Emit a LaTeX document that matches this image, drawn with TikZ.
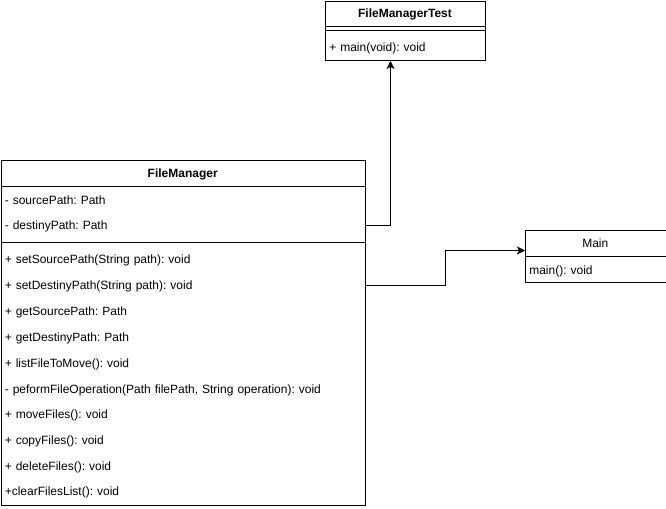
\documentclass[tikz,border=0pt]{standalone}
\usepackage{fontspec}
\setmainfont{Liberation Sans}
\frenchspacing
\usetikzlibrary{arrows.meta}
\begin{document}
\begin{tikzpicture}[x=0.75pt, y=-0.75pt, font=\fontsize{9pt}{11pt}\selectfont,
	classbox/.style={draw, line width=0.75pt, anchor=north west, inner sep=0pt},
	title/.style={anchor=center, inner sep=0pt, text height=6.5pt, text depth=1.9pt, yshift=-1.1pt},
	row/.style={anchor=west, inner xsep=3pt, inner ysep=0pt, align=left, text height=6.5pt, text depth=1.9pt, yshift=-1.1pt},
	conn/.style={line width=0.75pt, -{Stealth[length=6pt, width=6pt, inset=1.5pt]}}]
	    \useasboundingbox (0,0) rectangle (666,508);
	    % FileManagerTest
	    \node[classbox, minimum width=120pt, minimum height=44.6pt] (test) at (325,0.5) {};
	    \node[title, font=\fontsize{9pt}{11pt}\selectfont\bfseries] (testname) at (405,13) {FileManagerTest};
	    \draw[line width=0.75pt] (325,26) -- (485,26);
	    \draw[line width=0.75pt] (325,30) -- (485,30);
	    \node[row, text width=114pt] (testmain) at (325,47) {+ main(void): void};
	    % FileManager
	    \node[classbox, minimum width=273.4pt, minimum height=258.4pt] (fm) at (0.5,160) {};
	    \node[title, font=\fontsize{9pt}{11pt}\selectfont\bfseries] (fmname) at (182.75,173) {FileManager};
	    \draw[line width=0.75pt] (0.5,186) -- (365,186);
	    \node[row, text width=267.4pt] (fmsource) at (0.5,200) {- sourcePath: Path};
	    \node[row, text width=267.4pt] (fmdest) at (0.5,225) {- destinyPath: Path};
	    \draw[line width=0.75pt] (0.5,242) -- (365,242);
	    \node[row, text width=267.4pt] (fmsetsource) at (0.5,259) {+ setSourcePath(String path): void};
	    \node[row, text width=267.4pt] (fmsetdest) at (0.5,285) {+ setDestinyPath(String path): void};
	    \node[row, text width=267.4pt] (fmgetsource) at (0.5,311) {+ getSourcePath: Path};
	    \node[row, text width=267.4pt] (fmgetdest) at (0.5,337) {+ getDestinyPath: Path};
	    \node[row, text width=267.4pt] (fmlist) at (0.5,363) {+ listFileToMove(): void};
	    \node[row, text width=267.4pt] (fmop) at (0.5,389) {- peformFileOperation(Path filePath, String operation): void};
	    \node[row, text width=267.4pt] (fmmove) at (0.5,414) {+ moveFiles(): void};
	    \node[row, text width=267.4pt] (fmcopy) at (0.5,440) {+ copyFiles(): void};
	    \node[row, text width=267.4pt] (fmdelete) at (0.5,466) {+ deleteFiles(): void};
	    \node[row, text width=267.4pt] (fmclear) at (0.5,491) {+clearFilesList(): void};
	    % Main
	    \node[classbox, minimum width=105.4pt, minimum height=39pt] (main) at (525,230) {};
	    \node[title] (mainname) at (595.25,243) {Main};
	    \draw[line width=0.75pt] (525,256) -- (665.5,256);
	    \node[row, text width=99.4pt] (mainmain) at (525,270) {main(): void};
	    % connectors
	    \draw[conn] ([yshift=1.1pt]fmdest.east) -| ([xshift=-11.25pt]test.south);
	    \draw[conn] ([yshift=1.1pt]fmsetdest.east) -- ++(80,0) |- ([yshift=4.5pt]main.west);
	\end{tikzpicture}
\end{document}
